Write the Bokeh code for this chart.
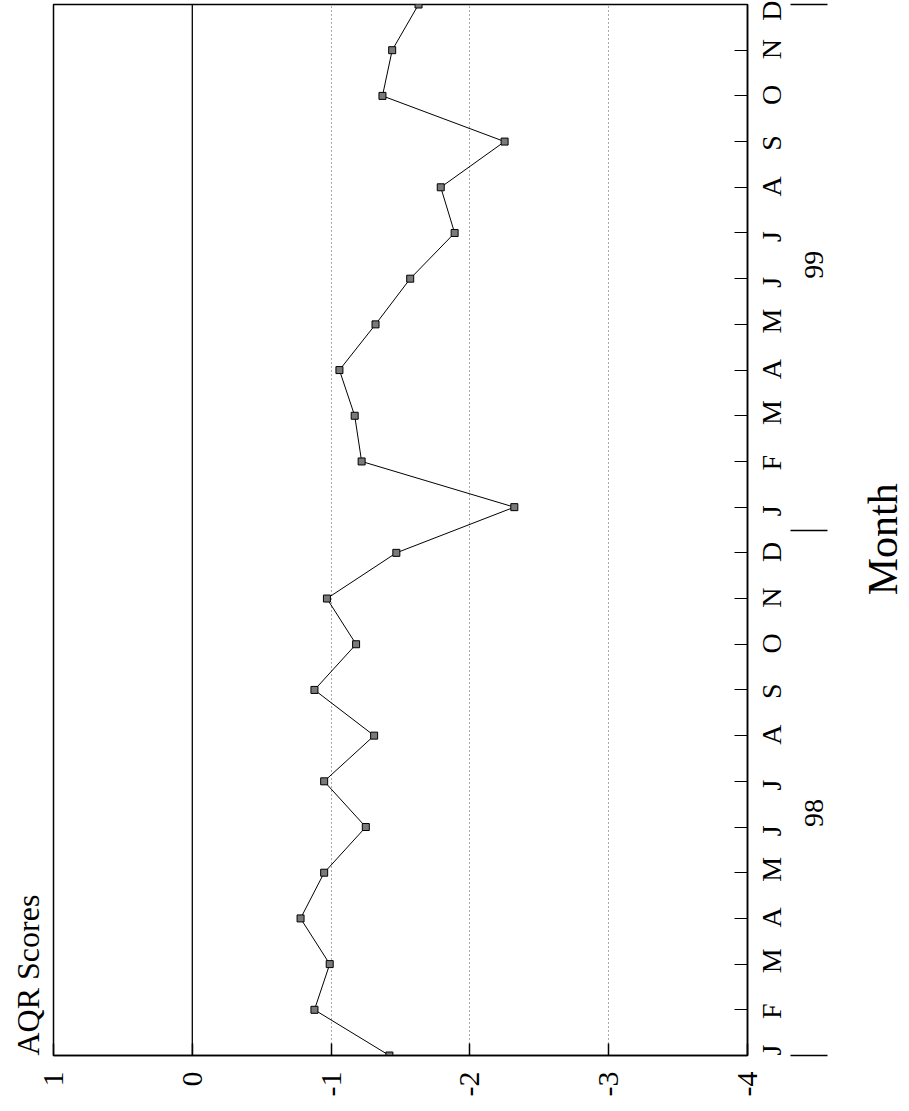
import math
from bokeh.plotting import figure
from bokeh.models import Range1d, FixedTicker, LinearAxis, Span
from bokeh.embed import file_html
from bokeh.resources import INLINE

FONT = "Liberation Serif"

# ---- data -------------------------------------------------------------
months = ["J", "F", "M", "A", "M", "J", "J", "A", "S", "O", "N", "D"] * 2
years = ["98", "99"]
aqr_1998 = [-1.42, -0.88, -0.99, -0.78, -0.95, -1.25, -0.95, -1.31, -0.88, -1.18, -0.97, -1.47]
aqr_1999 = [-2.32, -1.22, -1.17, -1.06, -1.32, -1.57, -1.89, -1.79, -2.25, -1.37, -1.44, -1.63]
score_ticks = [1, 0, -1, -2, -3, -4]
score_labels = ["1", "0", "-1", "-2", "-3", "-4"]
grid_scores = [-1, -2, -3]

scores = aqr_1998 + aqr_1999
month_idx = list(range(len(scores)))
year_bounds = [0, 11.5, 23]

# rotated labels are drawn starting at their tick, so their anchors are
# moved down by about half a label's length (kept inside the month range)
month_label_shift = 0.2
month_label_pos = [max(month_idx[0], i - month_label_shift) for i in month_idx]
year_label_pos = [5.0, 17.0]
month_title_pos = 10.07

# ---- figure (rotated layout: scores horizontal, months vertical) -----
p = figure(frame_width=694, frame_height=1051,
           x_range=Range1d(1, -4), y_range=Range1d(month_idx[0], month_idx[-1]),
           x_axis_location="below", y_axis_location="right",
           title="AQR Scores", title_location="left",
           output_backend="svg", toolbar_location=None,
           min_border_left=53, min_border_top=4, min_border_bottom=0,
           min_border_right=158)
p.background_fill_color = "white"
p.border_fill_color = "white"
p.outline_line_color = "black"
p.outline_line_width = 1.5

p.title.align = "left"
p.title.text_font = FONT
p.title.text_font_size = "32px"
p.title.text_font_style = "normal"
p.title.text_color = "black"
p.title.standoff = 15

# grid
p.ygrid.visible = False
p.xgrid.ticker = FixedTicker(ticks=grid_scores)
p.xgrid.grid_line_color = "#555555"
p.xgrid.grid_line_dash = "1 3"
p.xgrid.grid_line_width = 1

# zero line
p.add_layout(Span(location=0, dimension="height", line_color="black", line_width=1.3))

# bottom axis (scores)
xa = p.xaxis[0]
xa.ticker = FixedTicker(ticks=score_ticks)
xa.major_label_overrides = {t: s for t, s in zip(score_ticks, score_labels)}
xa.major_label_orientation = math.pi / 2
xa.major_tick_in = 12
xa.major_tick_out = 0
xa.minor_tick_line_color = None
xa.axis_line_color = "black"
xa.axis_line_width = 1.5
xa.major_tick_line_width = 1.5
xa.major_label_standoff = 16
xa.major_label_text_font = FONT
xa.major_label_text_font_size = "30px"
xa.major_label_text_color = "black"

# right axis: month tick marks only
ya = p.yaxis[0]
ya.ticker = FixedTicker(ticks=month_idx)
ya.major_label_overrides = {i: "" for i in month_idx}
ya.major_label_text_font_size = "1px"
ya.major_label_standoff = 0
ya.major_tick_in = 13
ya.major_tick_out = 0
ya.minor_tick_line_color = None
ya.axis_line_color = "black"
ya.axis_line_width = 1.5
ya.major_tick_line_width = 1.2

# month letters
ml = LinearAxis(ticker=FixedTicker(ticks=month_label_pos, minor_ticks=[]))
ml.major_label_overrides = {pos: m for pos, m in zip(month_label_pos, months)}
ml.major_label_orientation = math.pi / 2
ml.axis_line_color = None
ml.major_tick_line_color = None
ml.minor_tick_line_color = None
ml.major_tick_in = 0
ml.major_tick_out = 0
ml.major_label_standoff = 24
ml.major_label_text_font = FONT
ml.major_label_text_font_size = "28px"
ml.major_label_text_color = "black"
p.add_layout(ml, "right")

# year labels and year separators
ax2 = LinearAxis(ticker=FixedTicker(ticks=year_label_pos, minor_ticks=year_bounds))
ax2.major_label_overrides = {c: y for c, y in zip(year_label_pos, years)}
ax2.major_label_orientation = math.pi / 2
ax2.axis_line_color = None
ax2.major_tick_line_color = None
ax2.major_tick_in = 0
ax2.major_tick_out = 0
ax2.minor_tick_in = 15
ax2.minor_tick_out = 22
ax2.minor_tick_line_color = "black"
ax2.minor_tick_line_width = 1.5
ax2.major_label_standoff = -13
ax2.major_label_text_font = FONT
ax2.major_label_text_font_size = "28px"
ax2.major_label_text_color = "black"
p.add_layout(ax2, "right")

# "Month" title
ax3 = LinearAxis(ticker=FixedTicker(ticks=[month_title_pos], minor_ticks=[]))
ax3.major_label_overrides = {month_title_pos: "Month"}
ax3.major_label_orientation = math.pi / 2
ax3.axis_line_color = None
ax3.major_tick_line_color = None
ax3.minor_tick_line_color = None
ax3.major_tick_in = 0
ax3.major_tick_out = 0
ax3.major_label_standoff = 48
ax3.major_label_text_font = FONT
ax3.major_label_text_font_size = "42px"
ax3.major_label_text_color = "black"
p.add_layout(ax3, "right")

# data
p.line(x=scores, y=month_idx, line_color="black", line_width=1)
p.scatter(x=scores, y=month_idx, marker="square", size=7,
          fill_color="#7a7a7a", line_color="black", line_width=1)

open("out.html", "w").write(file_html(p, INLINE))
